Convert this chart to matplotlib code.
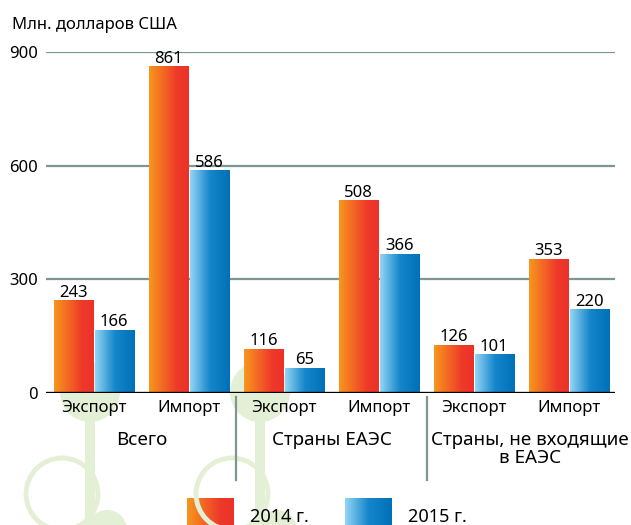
import matplotlib
matplotlib.use("Agg")
import matplotlib.pyplot as plt
from matplotlib.colors import LinearSegmentedColormap
from matplotlib.patches import Circle, Rectangle
import numpy as np

plt.rcParams['font.family'] = ['Noto Sans', 'DejaVu Sans']

# values, mln US dollars
categories = ['Экспорт', 'Импорт', 'Экспорт', 'Импорт', 'Экспорт', 'Импорт']
groups = ['Всего', 'Страны ЕАЭС', 'Страны, не входящие\nв ЕАЭС']
values_2014 = [243, 861, 116, 508, 126, 353]
values_2015 = [166, 586, 65, 366, 101, 220]
series_names = ['2014 г.', '2015 г.']
yticks = [0, 300, 600, 900]

orange_cm = LinearSegmentedColormap.from_list(
    'orng', [(0, '#f7961d'), (0.7, '#ee3a2a'), (1, '#ed3129')])
blue_cm = LinearSegmentedColormap.from_list(
    'blu', [(0, '#93d4f4'), (0.5, '#1586cb'), (1, '#0070b8')])
grad = np.linspace(0, 1, 64).reshape(1, -1)

fig = plt.figure(figsize=(6.31, 5.25), dpi=100)

# decorative background (pixel coordinates)
bg = fig.add_axes([0, 0, 1, 1], zorder=0)
bg.set_xlim(0, 631)
bg.set_ylim(525, 0)
bg.axis('off')
deco = '#e4f0d6'
for cx in [90, 260]:
    bg.add_patch(Circle((cx, 392), 30, color=deco, lw=0))
    bg.add_patch(Rectangle((cx - 5, 392), 10, 140, color=deco, lw=0))
for cx in [62, 232]:
    bg.add_patch(Circle((cx, 494), 36, fill=False, ec=deco, lw=3.5))
bg.add_patch(Circle((107, 530), 20, color=deco, lw=0))
bg.add_patch(Circle((277, 530), 20, color=deco, lw=0))

ax = fig.add_axes([46 / 631, 132 / 525, 569 / 631, 341 / 525], zorder=1)
ax.set_facecolor('none')

x = np.arange(len(categories))
w = 0.415
b1 = ax.bar(x - 0.213, values_2014, w, color='none', lw=0)
b2 = ax.bar(x + 0.213, values_2015, w, color='none', lw=0)
for bars, cm in [(b1, orange_cm), (b2, blue_cm)]:
    for r in bars:
        ax.imshow(grad, cmap=cm, aspect='auto', zorder=2,
                  extent=[r.get_x(), r.get_x() + r.get_width(), 0, r.get_height()])
    ax.bar_label(bars, padding=0, fontsize=12)

ax.set_xlim(-0.505, 5.484)
ax.set_ylim(0, 900)
for s in ax.spines.values():
    s.set_visible(False)
for t in yticks[1:]:
    ax.axhline(t, color='#7d9692', lw=1.6, zorder=1)
ax.axhline(0, color='black', lw=2.4, zorder=3)
ax.set_yticks(yticks)
ax.set_yticklabels([str(t) for t in yticks], fontsize=12)
ax.tick_params(axis='y', length=0, pad=6)
ax.set_xticks(x)
ax.set_xticklabels(categories, fontsize=12)
ax.tick_params(axis='x', length=0, pad=5)

# group labels and separators
for i, g in enumerate(groups):
    gx = 2 * i + 0.5 + (0.09 if i == 2 else 0)
    ax.text(gx, -100, g, ha='center', va='top', fontsize=13.5,
            linespacing=1.0)
for sx in [1.5, 3.5]:
    ax.plot([sx, sx], [-10, -230], color='#7d9692', lw=1.6, clip_on=False)

bg.text(12, 25, 'Млн. долларов США', fontsize=12, ha='left', va='center')

# legend
for lx, name, cm in [(187, series_names[0], orange_cm), (345, series_names[1], blue_cm)]:
    bg.imshow(grad, cmap=cm, aspect='auto', extent=[lx, lx + 47, 527, 498])
    bg.text(lx + 63, 517, name, fontsize=13, va='center', ha='left')
bg.set_xlim(0, 631)
bg.set_ylim(525, 0)

fig.savefig('out.png', dpi=100)
